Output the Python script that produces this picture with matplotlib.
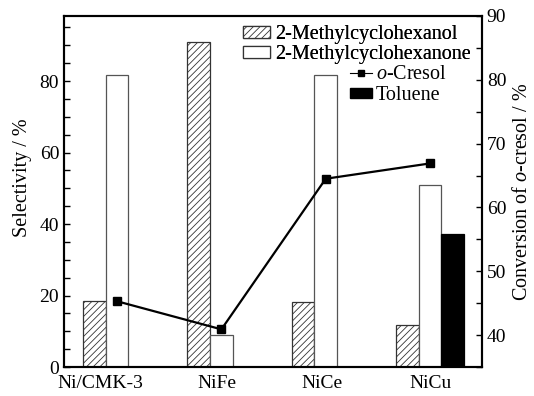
import matplotlib
matplotlib.use("Agg")
import matplotlib.pyplot as plt
from matplotlib.lines import Line2D
from matplotlib.patches import Patch
import numpy as np

plt.rcParams['font.family'] = ['Liberation Serif', 'DejaVu Serif']
plt.rcParams['mathtext.fontset'] = 'custom'
plt.rcParams['mathtext.rm'] = 'Liberation Serif'
plt.rcParams['mathtext.it'] = 'Liberation Serif:italic'
plt.rcParams['hatch.linewidth'] = 0.6

# Catalysts and results
catalysts = ["Ni/CMK-3", "NiFe", "NiCe", "NiCu"]
methylcyclohexanol = [18.5, 90.8, 18.1, 11.7]   # selectivity, %
methylcyclohexanone = [81.6, 9.0, 81.8, 50.9]   # selectivity, %
toluene = [0.0, 0.0, 0.0, 37.2]                 # selectivity, %
conversion = [45.3, 40.9, 64.5, 66.9]           # o-cresol conversion, %

# layout: bar width = 1 unit, groups spaced 4.6 units apart
spacing = 4.6
label_offsets = [-0.25, 0.3, 0.33, 0.53]
g = np.arange(len(catalysts)) * spacing

fig = plt.figure(figsize=(5.34, 3.96), dpi=100)
ax = fig.add_axes([64/534, 1 - 367/396, (482 - 64)/534, (367 - 16)/396])
ax2 = ax.twinx()

ax.bar(g - 0.5, methylcyclohexanol, width=1.0, facecolor='white',
       edgecolor='#333333', linewidth=0.9, hatch='/////')
ax.bar(g + 0.5, methylcyclohexanone, width=1.0, facecolor='white',
       edgecolor='#555555', linewidth=0.9)
tol_mask = np.array(toluene) > 0
ax.bar(g[tol_mask] + 1.5, np.array(toluene)[tol_mask], width=1.0,
       facecolor='black', edgecolor='black', linewidth=0.9)

ax2.plot(g + 0.5, conversion, color='black', lw=1.6, marker='s',
         markersize=5.5, markeredgecolor='black', markerfacecolor='black')

ax.set_xlim(-1.84, 3 * spacing + 2.79)
ax.set_ylim(0, 98.2)
ax2.set_ylim(35, 90)

ax.set_xticks(g + np.array(label_offsets))
ax.set_xticklabels(catalysts, fontsize=14)
ax.tick_params(axis='x', length=0, pad=6)

ax.set_yticks([0, 20, 40, 60, 80])
ax.set_yticks(np.arange(5, 98, 5), minor=True)
ax.tick_params(axis='y', which='both', direction='in', labelsize=14, width=1.0)
ax.tick_params(axis='y', which='major', length=4.5)
ax.tick_params(axis='y', which='minor', length=4)

ax2.set_yticks([40, 50, 60, 70, 80, 90])
ax2.set_yticks(np.arange(35, 91, 5), minor=True)
ax2.tick_params(axis='y', which='both', direction='in', labelsize=14, width=1.0)
ax2.tick_params(axis='y', which='major', length=4.5)
ax2.tick_params(axis='y', which='minor', length=4)

for a in (ax, ax2):
    for s in a.spines.values():
        s.set_linewidth(1.5)

ax.set_ylabel("Selectivity / %", fontsize=14.5)
ax.yaxis.set_label_coords(-0.077, 0.54)
ax2.set_ylabel("Conversion of $\\mathit{o}$-cresol / %", fontsize=14.5, labelpad=5)

# legend for the selectivity bars
h1 = [Patch(facecolor='white', edgecolor='#333333', hatch='/////', lw=0.9),
      Patch(facecolor='white', edgecolor='#333333', lw=0.9)]
leg1 = ax.legend(h1, ["2-Methylcyclohexanol", "2-Methylcyclohexanone"],
                 loc='upper left', bbox_to_anchor=(243/534, 1 - 25/396),
                 bbox_transform=fig.transFigure, frameon=False, fontsize=14.5,
                 borderpad=0, borderaxespad=0, handlelength=1.35,
                 handleheight=0.6, handletextpad=0.25, labelspacing=0.05)
ax.add_artist(leg1)

# legend for conversion and toluene
h2 = [Line2D([], [], color='black', lw=0.8, marker='s', markersize=5),
      Patch(facecolor='black', edgecolor='black')]
leg2 = ax2.legend(h2, ["$\\mathit{o}$-Cresol", "Toluene"],
                  loc='upper left', bbox_to_anchor=(350/534, 1 - 65/396),
                  bbox_transform=fig.transFigure, frameon=False, fontsize=14.5,
                  borderpad=0, borderaxespad=0, handlelength=1.1,
                  handleheight=0.4, handletextpad=0.2, labelspacing=0.12)

fig.savefig("out.png", dpi=100)
